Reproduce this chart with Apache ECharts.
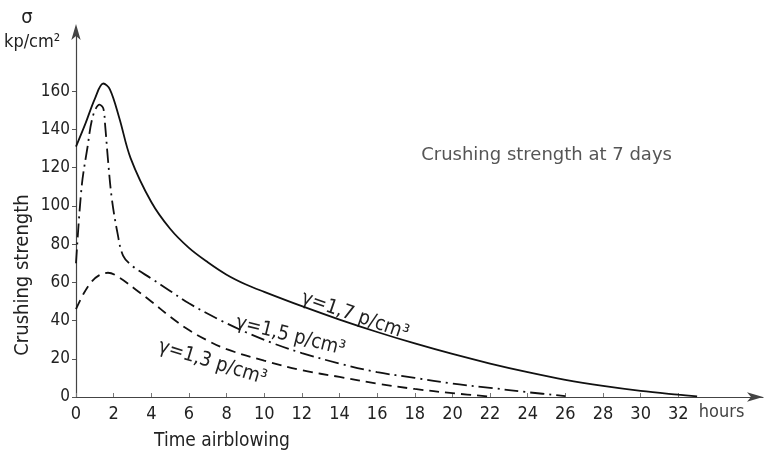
<!DOCTYPE html>
<html>
<head>
<meta charset="utf-8">
<script src="https://cdn.jsdelivr.net/npm/echarts@6/dist/echarts.min.js"></script>
<style>
  html, body { margin: 0; background: #fff; }
  #chart { width: 776px; height: 455px; }
</style>
</head>
<body>
<div id="chart"></div>
<script>
// tick labels
var hourTicks = [0, 2, 4, 6, 8, 10, 12, 14, 16, 18, 20, 22, 24, 26, 28, 30, 32];
var strengthTicks = [0, 20, 40, 60, 80, 100, 120, 140, 160];

// crushing strength (kp/cm2) vs time of airblowing (hours)
var gamma17 = [[0, 131], [0.5, 143], [1, 156], [1.45, 164], [1.8, 161], [2.3, 146], [2.9, 125],
  [4, 102], [5, 88], [6, 78], [7, 70.5], [8, 64], [9, 59], [10, 55], [12, 47.5], [14, 40.5], [16, 34], [18, 28],
  [20, 22.5], [22, 17.5], [24, 13], [26, 9], [28, 5.8], [30, 3.2], [32, 1.2], [33, 0.3]];
var gamma15 = [[0, 70], [0.3, 110], [0.6, 130], [0.9, 147], [1.25, 153], [1.45, 151], [1.55, 142],
  [1.7, 124], [1.9, 104], [2.2, 86], [2.5, 74], [3, 68.5], [4, 62], [5, 55.5], [6, 49], [7.6, 40.5],
  [9, 34], [10.5, 28], [12, 23], [14, 17.5], [16, 13], [18, 10], [20, 7], [22, 4.8], [24, 2.5], [26, 0.5]];
var gamma13 = [[0, 46], [0.4, 54], [0.8, 60], [1.2, 63.5], [1.7, 65], [2.3, 62.5], [3.2, 56],
  [4, 50], [5, 42], [6, 35], [7, 29.5], [8, 25], [10, 19], [12, 14], [14, 10.5], [16, 7],
  [18, 4.2], [20, 2], [22, 0.2]];

var font = '"DejaVu Sans Condensed", "Liberation Sans", sans-serif';
var wide = '"DejaVu Sans", sans-serif';
var ink = '#111';

var myChart = echarts.init(document.getElementById('chart'));

var option = {
  animation: false,
  grid: { left: 76, right: 13, top: 30, bottom: 58 },
  xAxis: {
    type: 'value',
    min: 0,
    max: 36.5,
    splitLine: { show: false },
    axisLine: { lineStyle: { color: '#444', width: 1.2 }, symbol: ['none', 'arrow'], symbolSize: [7, 16] },
    axisTick: { inside: true, length: 4, lineStyle: { color: '#777' }, customValues: hourTicks },
    axisLabel: { customValues: hourTicks, color: '#222', fontFamily: font, fontSize: 18, margin: 8 }
  },
  yAxis: {
    type: 'value',
    min: 0,
    max: 192,
    splitLine: { show: false },
    axisLine: { show: true, lineStyle: { color: '#444', width: 1.2 }, symbol: ['none', 'arrow'], symbolSize: [7, 16], symbolOffset: [0, 6] },
    axisTick: { show: true, length: 4, lineStyle: { color: '#555' }, customValues: strengthTicks },
    axisLabel: { customValues: strengthTicks, color: '#222', fontFamily: font, fontSize: 17, margin: 6 }
  },
  series: [
    {
      name: 'γ=1,7 p/cm³', type: 'line', smooth: 0.35, symbol: 'none', data: gamma17,
      lineStyle: { color: ink, width: 1.8 }
    },
    {
      name: 'γ=1,5 p/cm³', type: 'line', smooth: 0.35, symbol: 'none', data: gamma15,
      lineStyle: { color: ink, width: 1.8, type: [14, 5, 2, 5] }
    },
    {
      name: 'γ=1,3 p/cm³', type: 'line', smooth: 0.35, symbol: 'none', data: gamma13,
      lineStyle: { color: ink, width: 1.8, type: [10, 6] }
    }
  ]
};

myChart.setOption(option);

// annotations placed from data coordinates
function at(x, y) { return myChart.convertToPixel({ gridIndex: 0 }, [x, y]); }
function txt(p, s, size, rot, color, align, family) {
  return {
    type: 'text', x: p[0], y: p[1], rotation: rot || 0,
    style: { text: s, font: size + 'px ' + (family || font), fill: color || '#222', align: align || 'left', verticalAlign: 'middle' }
  };
}
var deg = Math.PI / 180;
myChart.setOption({
  graphic: [
    txt([27, 18], 'σ', 20, 0, '#222', 'center'),
    txt([4, 42], 'kp/cm²', 18, 0, '#222'),
    txt([23, 275], 'Crushing strength', 20, 90 * deg, '#222', 'center'),
    txt([222, 441], 'Time airblowing', 19, 0, '#222', 'center'),
    txt(at(34.3, -8), 'hours', 18, 0, '#444', 'center'),
    txt(at(25, 126.6), 'Crushing strength at 7 days', 18, 0, '#555', 'center', wide),
    txt(at(12, 52), 'γ=1,7 p/cm³', 20, -19 * deg, '#222'),
    txt(at(8.5, 39), 'γ=1,5 p/cm³', 20, -14 * deg, '#222'),
    txt(at(4.4, 26.5), 'γ=1,3 p/cm³', 20, -17 * deg, '#222')
  ]
});
</script>
</body>
</html>
